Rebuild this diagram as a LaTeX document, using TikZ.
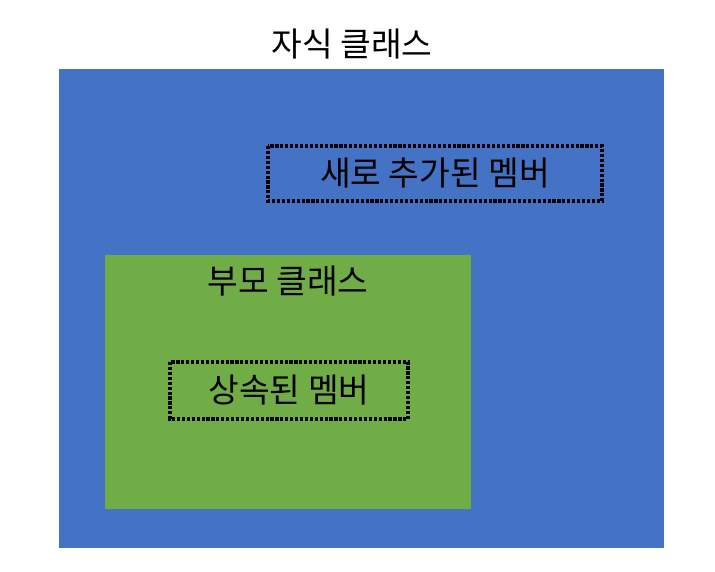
\documentclass[tikz,border=0pt]{standalone}
\usepackage{fontspec}
\setmainfont{Noto Sans CJK KR}
\usetikzlibrary{positioning}
\definecolor{childblue}{HTML}{4472C4}
\definecolor{parentgreen}{HTML}{70AD47}

\begin{document}
\begin{tikzpicture}[x=0.02cm, y=-0.02cm]
	\tikzset{member/.style={draw, densely dotted, line width=1.8pt, font=\fontsize{19}{22}\selectfont},
		title/.style={font=\fontsize{19}{22}\selectfont}}
	\useasboundingbox (0,0) rectangle (715,571);

	\fill[childblue] (59,69) rectangle (664,548);
	\fill[parentgreen] (105,255) rectangle (471,509);

	\node[title] (child) at (352,44) {자식 클래스};
	\node[title] (parent) at (288,281) {부모 클래스};
	\draw[member] (268,146) rectangle (602,201);
	\node[title] (newmem) at (435,173) {새로 추가된 멤버};
	\draw[member] (170,362) rectangle (408,419);
	\node[title] (inherited) at (289,390) {상속된 멤버};
\end{tikzpicture}
\end{document}
